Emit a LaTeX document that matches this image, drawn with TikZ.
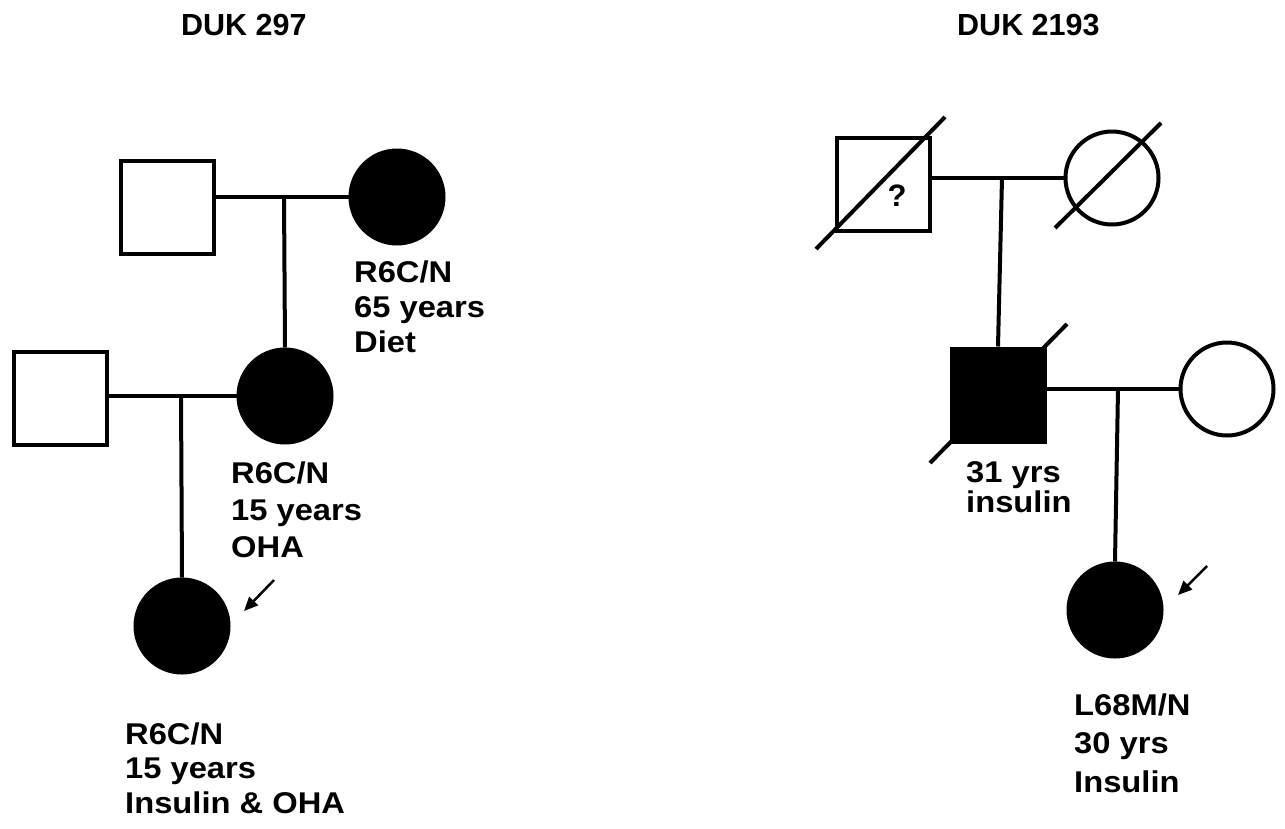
\documentclass[tikz,border=0pt]{standalone}
\usepackage{fontspec}
\setmainfont{Liberation Sans}
\newfontfamily\lblfont[FakeStretch=1.09]{Liberation Sans}
\usetikzlibrary{arrows.meta,calc}
\begin{document}
\begin{tikzpicture}[x=1pt,y=-1pt,
  male/.style={draw,line width=4pt,rectangle,minimum size=93pt,inner sep=0pt},
  female/.style={draw,line width=4pt,circle,minimum size=93pt,inner sep=0pt},
  aff/.style={fill=black},
  link/.style={line width=4pt},
  arr/.style={line width=2.5pt,-{Triangle[length=14pt,width=12pt]}},
  ttl/.style={anchor=base west,inner sep=0pt,font=\bfseries\fontsize{30.5}{36}\selectfont},
  lbl/.style={anchor=base west,align=left,inner sep=0pt,font=\lblfont\bfseries\fontsize{30}{#1}\selectfont},
  lbl/.default=35]
\useasboundingbox (0,0) rectangle (1285,828);

% titles
\node[ttl] (t1) at (181,35) {DUK 297};
\node[ttl] (t2) at (957,35) {DUK 2193};

% ---- DUK 297 ----
\node[male] (A) at (167,207) {};
\node[female,aff] (B) at (397,197) {};
\node[female,aff] (C) at (285,396) {};
\node[male] (D) at (60,398) {};
\node[female,aff] (E) at (182,626) {};
\draw[link] (A.east |- B.west) -- (B.west);
\coordinate (m1) at (284,197);
\draw[link] (m1) -- (C.north);
\draw[link] (D.east |- C.west) -- (C.west);
\coordinate (m2) at (181,396);
\draw[link] (m2) -- (E.north);
\coordinate (a1s) at (274,580);
\coordinate (a1e) at (244,611);
\draw[arr] (a1s) -- (a1e);

% labels: anchor is the baseline of the last line
\node[lbl=35] (l1) at (354,352) {R6C/N\\65 years\\Diet};
\node[lbl=37] (l2) at (231,557) {R6C/N\\15 years\\OHA};
\node[lbl=34.5] (l3) at (125,813) {R6C/N\\15 years\\Insulin \& OHA};

% ---- DUK 2193 ----
\node[male] (F) at (883,184) {};
\node[female] (G) at (1112,178) {};
\node[inner sep=0pt,font=\bfseries\fontsize{31}{36}\selectfont] (q) at (897,196) {?};
\draw[link] ($(F.center)+(-67,65)$) -- ($(F.center)+(62,-67)$);
\draw[link] ($(G.center)+(-57,50)$) -- ($(G.center)+(49,-55)$);
\draw[link] (F.east |- G.west) -- (G.west);
\draw[link] ($(998,395)+(-68,68)$) -- ($(998,395)+(69,-71)$);
\node[male,aff] (H) at (998,395) {};
\coordinate (m3) at (1002,178);
\draw[link] (m3) -- (H.north);
\node[female] (I) at (1227,389) {};
\draw[link] (H.east |- I.west) -- (I.west);
\node[female,aff] (J) at (1115,610) {};
\coordinate (m4) at (1118,389);
\draw[link] (m4) -- (J.north);
\coordinate (a2s) at (1207,566);
\coordinate (a2e) at (1178,595);
\draw[arr] (a2s) -- (a2e);

\node[lbl=29.5] (l4) at (966,512) {31 yrs\\insulin};
\node[lbl=38.5] (l5) at (1074,792) {L68M/N\\30 yrs\\Insulin};
\end{tikzpicture}
\end{document}
